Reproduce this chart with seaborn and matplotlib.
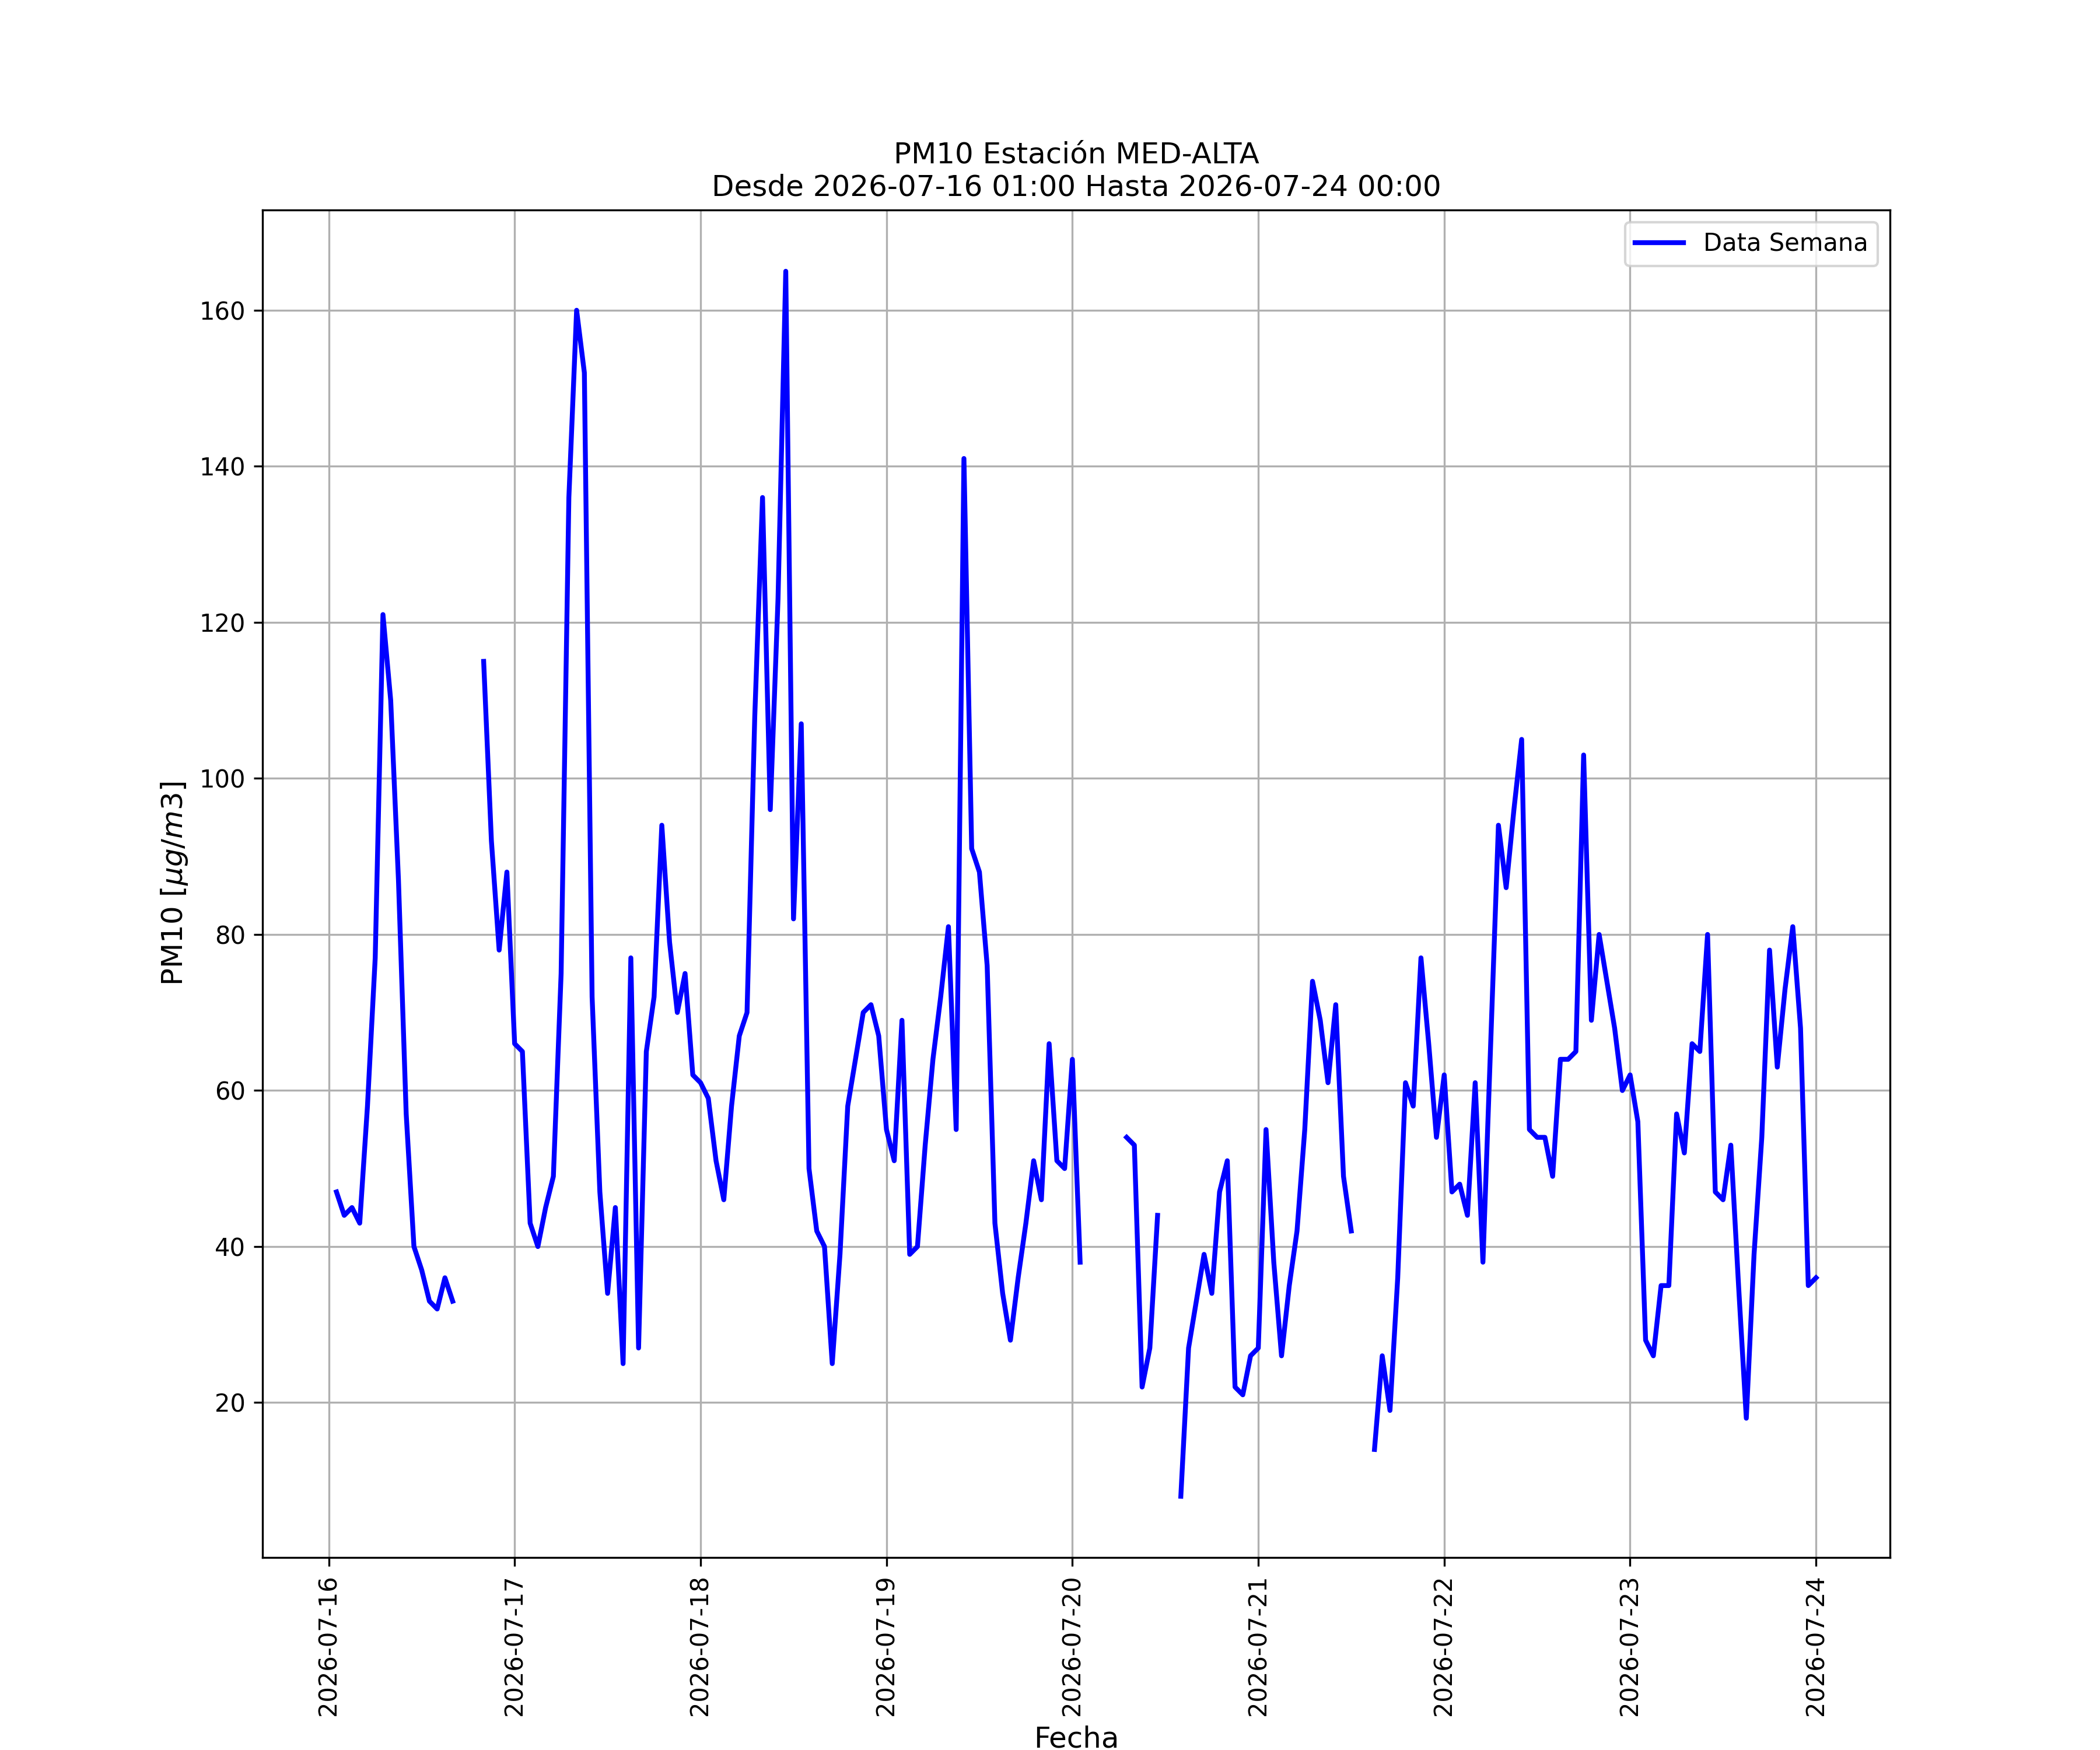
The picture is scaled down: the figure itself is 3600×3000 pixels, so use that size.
import numpy as np
import pandas as pd
import matplotlib.pyplot as plt
import matplotlib.dates as mdates
import seaborn as sns
plt.switch_backend('Agg')

# hourly PM10, 2026-07-16 01:00 .. 2026-07-24 00:00 (NaN = no data)
nan = np.nan
day16 = [47, 44, 45, 43, 58, 77, 121, 110, 87, 57, 40, 37, 33, 32, 36, 33,
         nan, nan, nan, 115, 92, 78, 88]
day17 = [66, 65, 43, 40, 45, 49, 75, 136, 160, 152, 72, 47, 34, 45, 25, 77,
         27, 65, 72, 94, 79, 70, 75, 62]
day18 = [61, 59, 51, 46, 58, 67, 70, 108, 136, 96, 123, 165, 82, 107, 50, 42,
         40, 25, 39, 58, 64, 70, 71, 67]
day19 = [55, 51, 69, 39, 40, 53, 64, 72, 81, 55, 141, 91, 88, 76, 43, 34,
         28, 36, 43, 51, 46, 66, 51, 50]
day20 = [64, 38, nan, nan, nan, nan, nan, 54, 53, 22, 27, 44, nan, nan, 8, 27,
         33, 39, 34, 47, 51, 22, 21, 26]
day21 = [27, 55, 38, 26, 35, 42, 55, 74, 69, 61, 71, 49, 42, nan, nan, 14,
         26, 19, 36, 61, 58, 77, 66, 54]
day22 = [62, 47, 48, 44, 61, 38, 66, 94, 86, 96, 105, 55, 54, 54, 49, 64,
         64, 65, 103, 69, 80, 74, 68, 60]
day23 = [62, 56, 28, 26, 35, 35, 57, 52, 66, 65, 80, 47, 46, 53, 35, 18,
         39, 54, 78, 63, 73, 81, 68, 35]
day24 = [36]

station = "MED-ALTA"
start = "2026-07-16 01:00"
end = "2026-07-24 00:00"

values = day16 + day17 + day18 + day19 + day20 + day21 + day22 + day23 + day24
df = pd.DataFrame({
    "fecha": pd.date_range(start, end, freq="h"),
    "pm10": values,
})

# split into continuous pieces so gaps stay empty
df["seg"] = df["pm10"].isna().cumsum()
df = df.dropna()

fig, ax = plt.subplots(figsize=(12, 10), dpi=300)

first = True
for _, part in df.groupby("seg"):
    sns.lineplot(data=part, x="fecha", y="pm10", ax=ax, color="blue",
                 linewidth=2, label="Data Semana" if first else None,
                 legend=False)
    first = False

ax.set_title("PM10 Estación " + station + "\nDesde " + start + " Hasta " + end,
             fontsize=12)
ax.set_xlabel("Fecha", fontsize=12)
ax.set_ylabel(r"PM10 [$\mu g/m3$]", fontsize=12)
ax.xaxis.set_major_locator(mdates.DayLocator())
ax.xaxis.set_major_formatter(mdates.DateFormatter("%Y-%m-%d"))
plt.setp(ax.get_xticklabels(), rotation=90)
ax.grid(True)
ax.legend(loc="upper right")

plt.savefig("out.png", dpi=300)
